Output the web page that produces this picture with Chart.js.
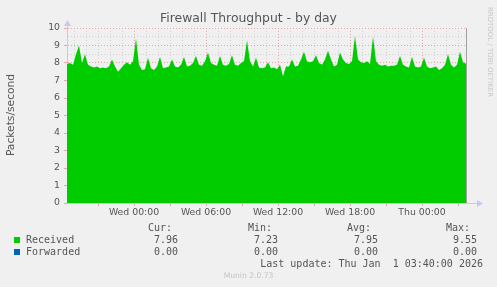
<!DOCTYPE html>
<html>
<head>
<meta charset="utf-8">
<script src="https://cdn.jsdelivr.net/npm/chart.js@4.4.1/dist/chart.umd.min.js"></script>
<style>
html,body{margin:0;padding:0;background:#f0f0f0;}
#wrap{position:relative;width:497px;height:287px;overflow:hidden;background:#f0f0f0;}
canvas{position:absolute;left:0;top:0;}
.t{position:absolute;white-space:pre;}
.mono{font-family:"DejaVu Sans Mono",monospace;font-size:10px;color:#555;line-height:12px;}
.r{text-align:right;}
.sq{position:absolute;width:6px;height:6px;}
</style>
</head>
<body>
<div id="wrap">
<canvas id="c" width="497" height="287"></canvas>
<div class="t" style="left:0;width:497px;top:10px;text-align:center;font-family:'DejaVu Sans';font-size:12.4px;color:#555;">Firewall Throughput - by day</div>
<div class="t" style="left:-33px;top:109px;width:88px;text-align:center;transform:rotate(-90deg);font-family:'DejaVu Sans';font-size:10.7px;color:#555;line-height:12px;">Packets/second</div>
<div class="t" style="left:441px;top:48px;width:98px;transform:rotate(90deg);font-family:'DejaVu Sans';font-size:7px;color:#c8c8c8;line-height:8px;text-align:center;">RRDTOOL / TOBI OETIKER</div>
<div id="legend"></div>
<div class="t" style="left:0;width:497px;top:271px;text-align:center;font-family:'DejaVu Sans';font-size:7.6px;color:#c4c4c4;">Munin 2.0.73</div>
</div>
<script>
// ---- data ----
const tickHours = [0, 6, 12, 18, 24];
const tickLabels = ['Wed 00:00', 'Wed 06:00', 'Wed 12:00', 'Wed 18:00', 'Thu 00:00'];
const startHour = -335 / 60;   // Tue 18:25 relative to Wed 00:00
const endHour = 1660 / 60;     // Thu 03:40
const stepHours = 0.25;        // one sample every 15 minutes
const received = [
 7.95, 8.00, 7.90, 8.50, 9.00, 8.00, 8.50, 7.90, 7.80, 7.75,
 7.80, 7.70, 7.75, 7.70, 7.80, 8.20, 7.80, 7.50, 7.70, 7.90,
 8.05, 7.90, 8.10, 9.40, 7.90, 7.60, 7.65, 8.30, 7.70, 7.60,
 7.80, 8.35, 7.70, 7.75, 7.80, 8.20, 7.80, 7.75, 7.90, 8.35,
 7.80, 7.85, 8.00, 8.40, 7.90, 7.85, 8.10, 8.60, 8.00, 7.90,
 7.85, 8.40, 7.90, 7.85, 7.95, 8.45, 7.90, 7.85, 8.00, 8.10,
 9.30, 8.10, 7.80, 8.30, 7.75, 7.70, 7.75, 8.05, 7.70, 7.75,
 7.65, 7.90, 7.25, 7.80, 7.80, 8.20, 7.80, 7.85, 8.20, 8.65,
 8.10, 8.05, 8.10, 8.45, 8.00, 7.90, 8.20, 8.70, 8.20, 7.80,
 7.90, 8.60, 8.20, 8.00, 7.95, 8.10, 9.55, 8.20, 8.05, 8.00,
 8.10, 7.95, 9.50, 8.10, 7.90, 7.85, 7.90, 7.80, 7.85, 7.85,
 7.90, 8.40, 7.90, 7.80, 7.75, 8.35, 7.80, 7.75, 7.80, 8.30,
 7.80, 7.70, 7.75, 7.80, 7.60, 7.70, 7.90, 8.50, 7.90, 7.75,
 7.90, 8.65, 8.05, 7.96
];
const forwarded = [
 0,0,0,0,0,0,0,0,0,0, 0,0,0,0,0,0,0,0,0,0, 0,0,0,0,0,0,0,0,0,0,
 0,0,0,0,0,0,0,0,0,0, 0,0,0,0,0,0,0,0,0,0, 0,0,0,0,0,0,0,0,0,0,
 0,0,0,0,0,0,0,0,0,0, 0,0,0,0,0,0,0,0,0,0, 0,0,0,0,0,0,0,0,0,0,
 0,0,0,0,0,0,0,0,0,0, 0,0,0,0,0,0,0,0,0,0, 0,0,0,0,0,0,0,0,0,0,
 0,0,0,0,0,0,0,0,0,0, 0,0,0,0
];
const seriesNames = ['Received', 'Forwarded'];
const seriesColors = ['#00cc00', '#0066b3'];
const statHeaders = ['Cur:', 'Min:', 'Avg:', 'Max:'];
const statsReceived = ['7.96', '7.23', '7.95', '9.55'];
const statsForwarded = ['0.00', '0.00', '0.00', '0.00'];
const lastUpdate = 'Last update: Thu Jan  1 03:40:00 2026';

// ---- legend (HTML text) ----
(function(){
  const L = document.getElementById('legend');
  const colRight = [172, 272, 371, 470];
  const valRight = [178, 278, 378, 477];
  let h = '';
  statHeaders.forEach((s,i)=>{ h += `<div class="t mono r" style="left:${colRight[i]-60}px;width:60px;top:222px;">${s}</div>`; });
  const rows = [statsReceived, statsForwarded];
  rows.forEach((vals,r)=>{
    const top = 234 + r*12;
    h += `<div class="sq" style="left:14px;top:${top+3}px;background:${seriesColors[r]}"></div>`;
    h += `<div class="t mono" style="left:26px;top:${top}px;">${seriesNames[r]}</div>`;
    vals.forEach((v,i)=>{ h += `<div class="t mono r" style="left:${valRight[i]-60}px;width:60px;top:${top}px;">${v}</div>`; });
  });
  h += `<div class="t mono r" style="left:183px;width:300px;top:258px;">${lastUpdate}</div>`;
  L.innerHTML = h;
})();

const times = received.map((_, i) => startHour + i * stepHours);
const hourTicks = [];
for (let hr = Math.ceil(startHour); hr <= Math.floor(endHour); hr++) hourTicks.push(hr);

const mod = (a, n) => ((a % n) + n) % n;

const decor = {
  id: 'decor',
  afterDraw(chart) {
    const c = chart.ctx, a = chart.chartArea;
    c.save();
    // right edge line
    c.strokeStyle = '#a0a0a0';
    c.lineWidth = 1;
    c.beginPath();
    c.moveTo(Math.round(a.right) + 0.5, a.top);
    c.lineTo(Math.round(a.right) + 0.5, a.bottom);
    c.stroke();
    // x-axis extension + arrow
    c.strokeStyle = '#c8c8f0';
    c.fillStyle = '#c8c8f0';
    c.beginPath();
    c.moveTo(a.right, Math.round(a.bottom) + 0.5);
    c.lineTo(a.right + 12, Math.round(a.bottom) + 0.5);
    c.stroke();
    c.beginPath();
    c.moveTo(a.right + 17, a.bottom + 0.5);
    c.lineTo(a.right + 11, a.bottom - 3);
    c.lineTo(a.right + 11, a.bottom + 4);
    c.closePath();
    c.fill();
    // y-axis extension + arrow
    c.beginPath();
    c.moveTo(Math.round(a.left) + 0.5, a.top);
    c.lineTo(Math.round(a.left) + 0.5, a.top - 2);
    c.stroke();
    c.beginPath();
    c.moveTo(a.left + 0.5, a.top - 8);
    c.lineTo(a.left - 3, a.top - 2);
    c.lineTo(a.left + 4, a.top - 2);
    c.closePath();
    c.fill();
    c.restore();
  }
};

new Chart(document.getElementById('c'), {
  type: 'line',
  data: {
    datasets: [
      { label: seriesNames[0], data: times.map((t, i) => ({ x: t, y: received[i] })),
        fill: 'origin', backgroundColor: seriesColors[0], borderColor: seriesColors[0],
        borderWidth: 0, pointRadius: 0, tension: 0 },
      { label: seriesNames[1], data: times.map((t, i) => ({ x: t, y: forwarded[i] })),
        fill: 'origin', backgroundColor: seriesColors[1], borderColor: seriesColors[1],
        borderWidth: 0, pointRadius: 0, tension: 0 }
    ]
  },
  options: {
    responsive: false,
    animation: false,
    events: [],
    layout: { padding: { top: 28, right: 31, left: 0, bottom: 0 } },
    plugins: { legend: { display: false }, title: { display: false }, tooltip: { enabled: false } },
    scales: {
      x: {
        type: 'linear', min: startHour, max: endHour,
        afterFit(s) { s.height = 84; },
        afterBuildTicks(s) { s.ticks = hourTicks.map(v => ({ value: v })); },
        ticks: {
          autoSkip: false, maxRotation: 0, minRotation: 0, padding: 1,
          font: { family: 'DejaVu Sans', size: 9.33 }, color: '#555',
          callback: v => { const k = tickHours.indexOf(v); return k >= 0 ? tickLabels[k] : ''; }
        },
        grid: {
          color: c => mod(c.tick.value, 6) === 0 ? '#e6a8a8' : '#d4d4d4',
          tickColor: c => mod(c.tick.value, 3) === 0 ? '#e6a8a8' : 'rgba(0,0,0,0)',
          tickLength: 3, lineWidth: 1
        },
        border: { color: '#c8c8f0', width: 1, dash: [1, 2] }
      },
      y: {
        min: 0, max: 10,
        afterFit(s) { s.width = 67; },
        ticks: {
          stepSize: 0.5, autoSkip: false, padding: 4,
          font: { family: 'DejaVu Sans', size: 9.33 }, color: '#555',
          callback: v => Number.isInteger(v) ? String(v) : ''
        },
        grid: {
          color: c => Number.isInteger(c.tick.value) ? '#e6a8a8' : '#d4d4d4',
          tickColor: c => Number.isInteger(c.tick.value) ? '#e6a8a8' : 'rgba(0,0,0,0)',
          tickLength: 3, lineWidth: 1
        },
        border: { color: '#c8c8f0', width: 1, dash: [1, 2] }
      }
    }
  },
  plugins: [decor]
});
</script>
</body>
</html>
